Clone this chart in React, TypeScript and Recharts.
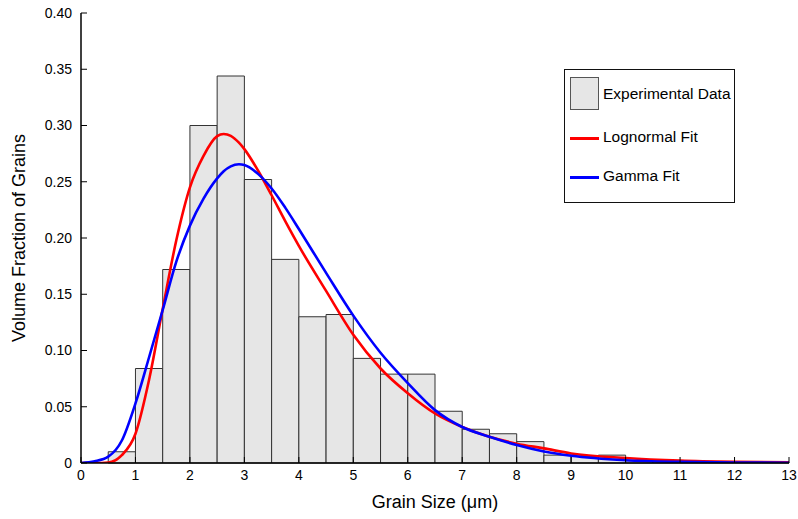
import React from 'react';
import { ComposedChart, Line, XAxis, YAxis, ReferenceArea, Legend } from 'recharts';

// histogram bins (grain size, um) and measured volume fractions
const binEdges = [0, 0.5, 1, 1.5, 2, 2.5, 3, 3.5, 4, 4.5, 5, 5.5, 6, 6.5, 7, 7.5, 8, 8.5, 9, 9.5, 10, 10.5, 11, 11.5, 12, 12.5, 13];
const binHeights = [
  0, 0.010, 0.084, 0.172, 0.300, 0.344, 0.252, 0.181, 0.130, 0.132, 0.093, 0.079, 0.079,
  0.046, 0.030, 0.026, 0.019, 0.007, 0.006, 0.007, 0.002, 0.0015, 0.001, 0.001, 0.0005, 0.0005,
];

// fitted curves
const sizes = [0, 0.25, 0.5, 0.75, 1, 1.25, 1.5, 1.75, 2, 2.25, 2.5, 2.62, 2.75, 2.9, 3, 3.25, 3.5, 3.75, 4, 4.5, 5, 5.5, 6, 6.5, 7, 7.5, 8, 8.5, 9, 10, 11, 12, 13];
const lognormalFit = [
  0, 0, 0.0005, 0.007, 0.026, 0.074, 0.137, 0.198, 0.245, 0.273, 0.2905, 0.2925, 0.2908, 0.2847, 0.279,
  0.26, 0.238, 0.215, 0.193, 0.153, 0.114, 0.084, 0.062, 0.044, 0.032, 0.0233, 0.0172, 0.013, 0.0085,
  0.0045, 0.0022, 0.0011, 0.0006,
];
const gammaFit = [
  0, 0.0015, 0.0056, 0.02, 0.053, 0.094, 0.136, 0.179, 0.211, 0.235, 0.253, 0.2594, 0.2637, 0.2655, 0.2648,
  0.257, 0.244, 0.227, 0.208, 0.169, 0.131, 0.098, 0.071, 0.047, 0.032, 0.0233, 0.016, 0.0103, 0.0065,
  0.0025, 0.001, 0.0004, 0.0002,
];

const xTicks = [0, 1, 2, 3, 4, 5, 6, 7, 8, 9, 10, 11, 12, 13];
const yTicks = [0, 0.05, 0.1, 0.15, 0.2, 0.25, 0.3, 0.35, 0.4];
const legendLabels = ['Experimental Data', 'Lognormal Fit', 'Gamma Fit'];

const FONT = '"Liberation Sans", Arial, sans-serif';
const BAR_FILL = '#e6e6e6';

const curveData = sizes.map((size, i) => ({ size, lognormal: lognormalFit[i], gamma: gammaFit[i] }));
const bins = binHeights
  .map((h, i) => ({ x1: binEdges[i], x2: binEdges[i + 1], h }))
  .filter((b) => b.h > 0);

const fmtY = (v: number) => (v === 0 ? '0' : v.toFixed(2));
const blank = () => '';

function LegendBox() {
  return (
    <div
      style={{
        width: 171,
        height: 134,
        boxSizing: 'border-box',
        border: '1.5px solid #111',
        background: '#fff',
        fontFamily: FONT,
        fontSize: 15.5,
        color: '#000',
        position: 'relative',
      }}
    >
      <div style={{ position: 'absolute', left: 5, top: 7, width: 29, height: 33, boxSizing: 'border-box', background: BAR_FILL, border: '1.5px solid #555' }} />
      <div style={{ position: 'absolute', left: 38, top: 15 }}>{legendLabels[0]}</div>
      <div style={{ position: 'absolute', left: 5, top: 67, width: 29, height: 3, background: '#ff0000' }} />
      <div style={{ position: 'absolute', left: 38, top: 58 }}>{legendLabels[1]}</div>
      <div style={{ position: 'absolute', left: 5, top: 106, width: 29, height: 3, background: '#0000ff' }} />
      <div style={{ position: 'absolute', left: 38, top: 97 }}>{legendLabels[2]}</div>
    </div>
  );
}

const yLabel = (props: any) => {
  const vb = props.viewBox;
  const x = vb.x - 2;
  const y = vb.y + vb.height / 2;
  return (
    <text x={x} y={y} transform={`rotate(-90, ${x}, ${y})`} textAnchor="middle" dominantBaseline="central" fontSize={18} fontFamily={FONT} fill="#000">
      Volume Fraction of Grains
    </text>
  );
};

const xLabel = (props: any) => {
  const vb = props.viewBox;
  return (
    <text x={vb.x + vb.width / 2} y={vb.y + vb.height - 5} textAnchor="middle" fontSize={18} fontFamily={FONT} fill="#000">
      Grain Size (μm)
    </text>
  );
};

export default function App() {
  const tickStyle = { fill: '#000', fontSize: 14, fontFamily: FONT };
  const axisLine = { stroke: '#000', strokeWidth: 1.5 };
  const tickLine = { stroke: '#000', strokeWidth: 1 };
  return (
    <div style={{ position: 'absolute', left: 0, top: 0, fontFamily: FONT }}>
      <ComposedChart width={798} height={519} data={curveData} margin={{ top: 13, right: 9, bottom: 6, left: 21 }}>
        {/* histogram */}
        {bins.map((b, i) => (
          <ReferenceArea
            key={i}
            x1={b.x1}
            x2={b.x2}
            y1={0}
            y2={b.h}
            fill={BAR_FILL}
            fillOpacity={1}
            stroke="#333"
            strokeWidth={1}
          />
        ))}

        <XAxis
          dataKey="size"
          type="number"
          domain={[0, 13]}
          ticks={xTicks}
          interval={0}
          allowDataOverflow
          height={50}
          tickSize={-6}
          tickMargin={13}
          tick={tickStyle}
          axisLine={axisLine}
          tickLine={tickLine}
          label={xLabel}
        />
        <YAxis
          type="number"
          domain={[0, 0.4]}
          ticks={yTicks}
          interval={0}
          allowDataOverflow
          width={60}
          tickSize={-6}
          tickMargin={15}
          tickFormatter={fmtY}
          tick={tickStyle}
          axisLine={axisLine}
          tickLine={tickLine}
          label={yLabel}
        />
        {/* box: top and right axes with inward ticks */}
        <XAxis
          xAxisId="top"
          orientation="top"
          type="number"
          domain={[0, 13]}
          ticks={xTicks}
          interval={0}
          allowDataOverflow
          height={0}
          tickSize={-6}
          tickFormatter={blank}
          axisLine={axisLine}
          tickLine={tickLine}
        />
        <YAxis
          yAxisId="right"
          orientation="right"
          type="number"
          domain={[0, 0.4]}
          ticks={yTicks}
          interval={0}
          allowDataOverflow
          width={0}
          tickSize={-6}
          tickFormatter={blank}
          axisLine={axisLine}
          tickLine={tickLine}
        />

        <Line type="monotone" dataKey="lognormal" stroke="#ff0000" strokeWidth={2.6} dot={false} isAnimationActive={false} />
        <Line type="monotone" dataKey="gamma" stroke="#0000ff" strokeWidth={2.6} dot={false} isAnimationActive={false} />

        <Legend
          layout="vertical"
          align="center"
          verticalAlign="middle"
          content={() => <LegendBox />}
          wrapperStyle={{ left: 564, top: 69, width: 171, height: 134 }}
        />
      </ComposedChart>
    </div>
  );
}
